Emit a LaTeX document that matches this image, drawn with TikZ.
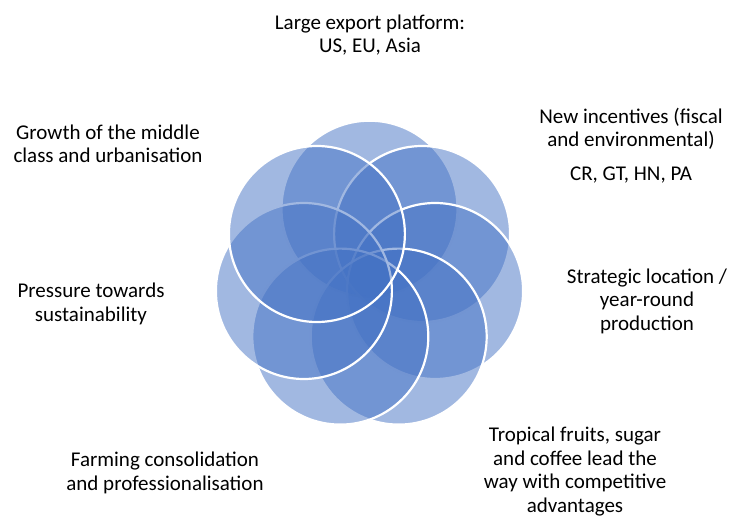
\documentclass[tikz,border=0pt]{standalone}
\usepackage{fontspec}
\setmainfont{Carlito}
\definecolor{petalblue}{HTML}{4472C4}

\begin{document}
\begin{tikzpicture}[x=1pt, y=-1pt,
petalnode/.style={circle, draw=white, fill=petalblue, fill opacity=0.5, line width=2.2pt, minimum size=176pt, inner sep=0pt,},
labelnode/.style={align=center, anchor=base, inner sep=0pt, font=\fontsize{21}{23.5}\selectfont,}
]

    \useasboundingbox (0,0) rectangle (731,516);

    % petals, clockwise from the top
    \node [petalnode] (p1) at (369.5,208.7) {};
    \node [petalnode] (p2) at (422.1,234.0) {};
    \node [petalnode] (p3) at (435.1,291.0) {};
    \node [petalnode] (p4) at (398.7,336.6) {};
    \node [petalnode] (p5) at (340.3,336.6) {};
    \node [petalnode] (p6) at (303.9,291.0) {};
    \node [petalnode] (p7) at (316.9,234.0) {};

    % labels (base = last line)
    \node [labelnode] (t1) at (370,53) {Large export platform:\\US, EU, Asia};
    \node [labelnode] (t2) at (631,180) {New incentives (fiscal\\and environmental)\\[9.5pt]CR, GT, HN, PA};
    \node [labelnode] (t3) at (647,330) {Strategic location /\\year-round\\production};
    \node [labelnode] (t4) at (575,512) {Tropical fruits, sugar\\and coffee lead the\\way with competitive\\advantages};
    \node [labelnode] (t5) at (165,490) {Farming consolidation\\and professionalisation};
    \node [labelnode] (t6) at (91,321) {Pressure towards\\sustainability};
    \node [labelnode] (t7) at (108,163) {Growth of the middle\\class and urbanisation};

\end{tikzpicture}
\end{document}
